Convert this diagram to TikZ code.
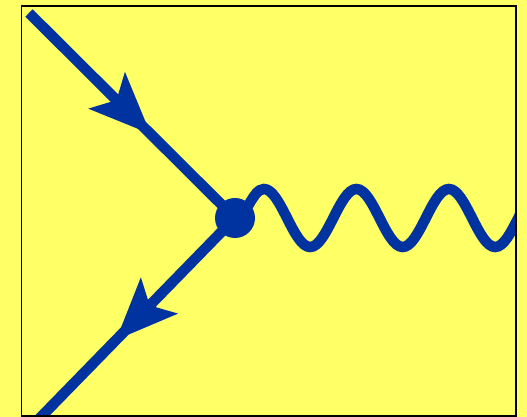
\documentclass[tikz,border=0pt]{standalone}
\usepackage{xcolor}
\usepackage{tikz}
\usetikzlibrary{arrows.meta,decorations.markings,decorations.pathmorphing}
\definecolor{padyellow}{HTML}{FFFF66}
\definecolor{padblue}{HTML}{0033A0}

\begin{document}
\begin{tikzpicture}[x=1pt,y=1pt,line width=10.5pt,
    fermion/.style={draw=padblue,postaction={decorate},
      decoration={markings,mark=at position #1 with {\arrow[padblue]{Stealth[length=62pt,width=52pt,inset=14pt,line width=0pt]}}}},
    photon/.style={draw=padblue,line cap=round,decorate,
      decoration={snake,segment length=92.5pt,amplitude=29pt}}]
    \fill[padyellow] (0,0) rectangle (527,417);
    \coordinate (ein) at (29,404);
    \coordinate (eout) at (37,-4);
    \coordinate (gout) at (600,199);
    \node[circle,fill=padblue,inner sep=0pt,minimum size=40pt] (vtx) at (235,199) {};
    \begin{scope}
      \clip (21.5,1) rectangle (516,411);
      \draw[fermion=0.59] (ein) -- (vtx.center);
      \draw[fermion=0.6] (vtx.center) -- (eout);
      \draw[photon] (vtx.center) -- (gout);
    \end{scope}
    \draw[line width=1.5pt] (21.5,1) rectangle (516,411);
  \end{tikzpicture}
\end{document}
